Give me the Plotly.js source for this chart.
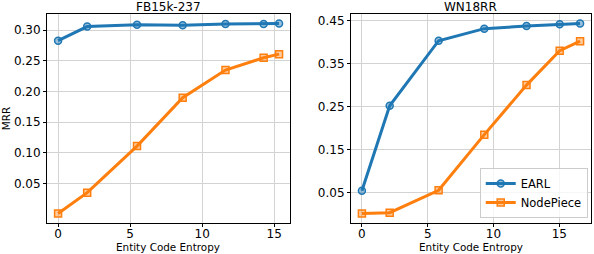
<!DOCTYPE html>
<html>
<head>
<meta charset="utf-8">
<script src="https://cdn.plot.ly/plotly-3.0.1.min.js"></script>
<style>html,body{margin:0;padding:0;background:#fff;}#chart{width:594px;height:254px;}</style>
</head>
<body>
<div id="chart"></div>
<script>
// FB15k-237
const fbEntropy = [0, 2.02, 5.48, 8.65, 11.62, 14.27, 15.34];
const fbEARL = [0.283, 0.306, 0.309, 0.308, 0.310, 0.310, 0.311];
const fbNodePiece = [0.001, 0.035, 0.111, 0.190, 0.235, 0.255, 0.261];
// WN18RR
const wnEntropy = [0, 2.11, 5.83, 9.30, 12.51, 15.03, 16.58];
const wnEARL = [0.055, 0.252, 0.403, 0.431, 0.437, 0.441, 0.443];
const wnNodePiece = [0.002, 0.004, 0.056, 0.185, 0.300, 0.380, 0.402];
// tick labels
const xTicks = [0, 5, 10, 15];
const fbYTicks = [0.05, 0.10, 0.15, 0.20, 0.25, 0.30];
const wnYTicks = [0.05, 0.15, 0.25, 0.35, 0.45];
const subplotTitles = ["FB15k-237", "WN18RR"];
const seriesNames = ["EARL", "NodePiece"];
const xTitle = "Entity Code Entropy";
const yTitle = "MRR";

const blue = "#1f77b4", orange = "#ff7f0e";
const FONT = "DejaVu Sans, sans-serif";

function earl(x, y, xa, ya, show) {
  return {x: x, y: y, xaxis: xa, yaxis: ya, name: seriesNames[0], showlegend: show, legendgroup: "e",
    mode: "lines+markers", line: {color: blue, width: 3},
    marker: {symbol: "circle", size: 7, color: "rgba(31,119,180,0.45)", line: {color: blue, width: 1.5}}};
}
function np(x, y, xa, ya, show) {
  return {x: x, y: y, xaxis: xa, yaxis: ya, name: seriesNames[1], showlegend: show, legendgroup: "n",
    mode: "lines+markers", line: {color: orange, width: 3},
    marker: {symbol: "square", size: 7, color: "rgba(255,127,14,0.4)", line: {color: orange, width: 1.5}}};
}

const traces = [
  earl(fbEntropy, fbEARL, "x", "y", false),
  np(fbEntropy, fbNodePiece, "x", "y", false),
  earl(wnEntropy, wnEARL, "x2", "y2", true),
  np(wnEntropy, wnNodePiece, "x2", "y2", true)
];

const axBase = {showline: true, mirror: true, linecolor: "#000", linewidth: 1,
  showgrid: true, gridcolor: "#d3d3d3", gridwidth: 1, zeroline: false,
  ticks: "outside", ticklen: 3, tickcolor: "#000", tickwidth: 1,
  tickfont: {family: FONT, size: 12, color: "#000"}};

function fmt(v) { return v.toFixed(2); }

const layout = {
  width: 594, height: 254,
  margin: {l: 47, r: 3, t: 14, b: 31},
  paper_bgcolor: "#fff", plot_bgcolor: "#fff",
  font: {family: FONT, color: "#000"},
  xaxis: Object.assign({}, axBase, {domain: [0, 0.4467], range: [-0.77, 16.1],
    tickvals: xTicks, ticktext: xTicks.map(String), ticklabelstandoff: -3}),
  yaxis: Object.assign({}, axBase, {range: [-0.0145, 0.3265],
    tickvals: fbYTicks, ticktext: fbYTicks.map(fmt),
    title: {text: yTitle, font: {family: FONT, size: 10.4}, standoff: 6}}),
  xaxis2: Object.assign({}, axBase, {domain: [0.5588, 1], anchor: "y2", range: [-0.83, 17.41],
    tickvals: xTicks, ticktext: xTicks.map(String), ticklabelstandoff: -3}),
  yaxis2: Object.assign({}, axBase, {anchor: "x2", range: [-0.020, 0.465],
    tickvals: wnYTicks, ticktext: wnYTicks.map(fmt)}),
  legend: {x: 0.994, y: 0.024, xanchor: "right", yanchor: "bottom",
    bgcolor: "rgba(255,255,255,0.8)", bordercolor: "#cccccc", borderwidth: 1,
    itemwidth: 30, tracegroupgap: 0,
    font: {family: FONT, size: 11.5, color: "#000"}},
  annotations: [
    {text: subplotTitles[0], xref: "paper", yref: "paper", x: 0.2233, y: 1, yshift: 7,
      xanchor: "center", yanchor: "middle", showarrow: false, font: {family: FONT, size: 12}},
    {text: subplotTitles[1], xref: "paper", yref: "paper", x: 0.7794, y: 1, yshift: 7,
      xanchor: "center", yanchor: "middle", showarrow: false, font: {family: FONT, size: 12}},
    {text: xTitle, xref: "paper", yref: "paper", x: 0.2233, y: 0, yshift: -24,
      xanchor: "center", yanchor: "middle", showarrow: false, font: {family: FONT, size: 10.4}},
    {text: xTitle, xref: "paper", yref: "paper", x: 0.7794, y: 0, yshift: -24,
      xanchor: "center", yanchor: "middle", showarrow: false, font: {family: FONT, size: 10.4}}
  ]
};

Plotly.newPlot("chart", traces, layout, {displayModeBar: false, staticPlot: true});
</script>
</body>
</html>
